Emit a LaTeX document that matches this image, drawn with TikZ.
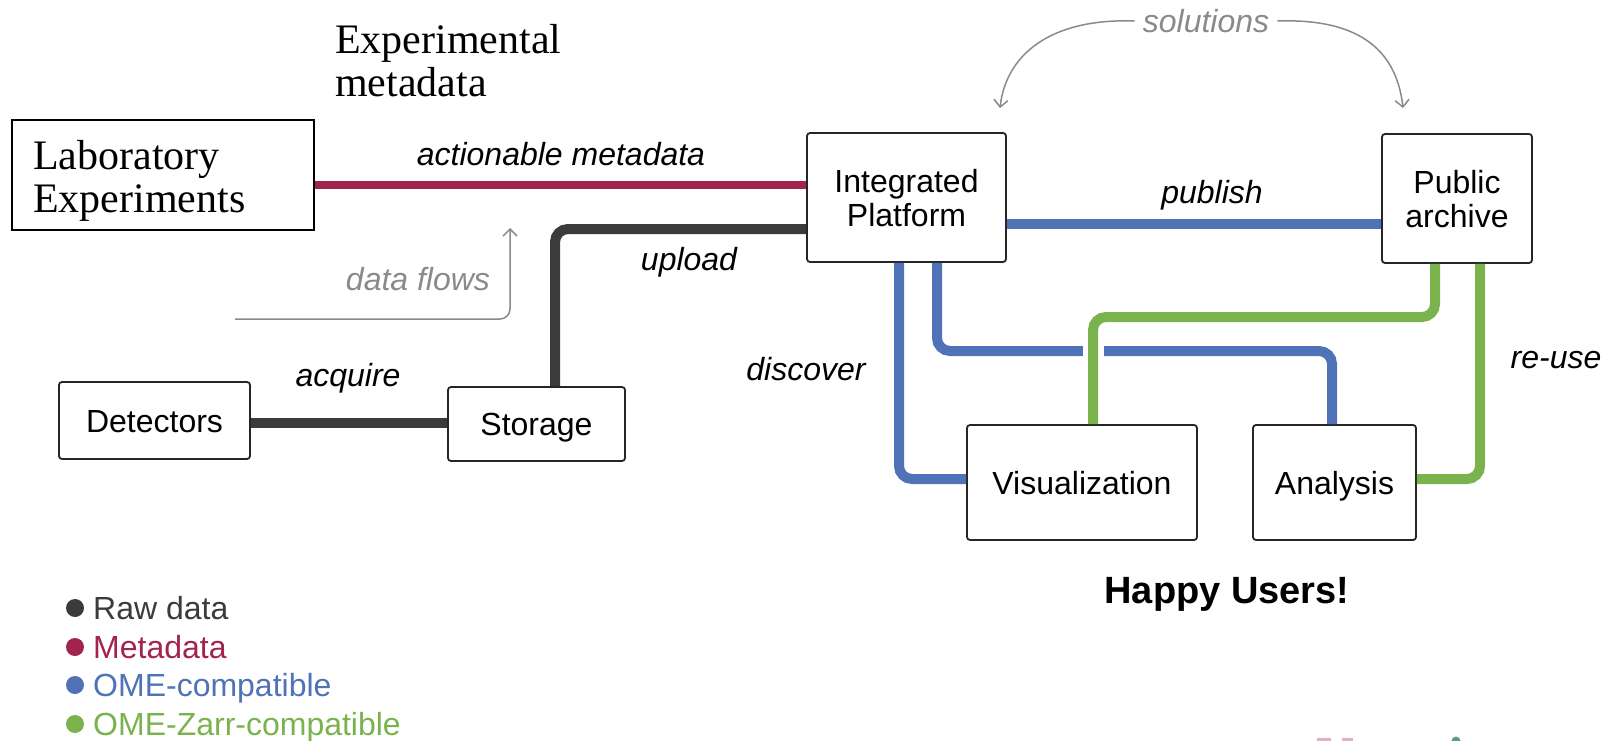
\documentclass[tikz,border=0pt]{standalone}
\usepackage{fontspec}
\setmainfont{Liberation Sans}
\newfontfamily\serifx{Liberation Serif}
\usetikzlibrary{arrows.meta}
\definecolor{rawc}{HTML}{3B3B3B}
\definecolor{metac}{HTML}{A3234F}
\definecolor{omec}{HTML}{5072B6}
\definecolor{zarrc}{HTML}{7AB34E}
\definecolor{notec}{HTML}{8A8A8A}
\definecolor{pinkc}{HTML}{E2AFC6}
\definecolor{tealc}{HTML}{5E9C86}
\tikzset{
  stagebox/.style={draw=black!85, line width=1.8pt, rounded corners=3pt, fill=white,
    font=\fontsize{32}{34}\selectfont, align=center, inner sep=0pt,
    text height=23pt, text depth=0pt},
  twoline/.style={text height=57pt},
  flow/.style={line width=10pt, rounded corners=13pt},
  rawflow/.style={flow, draw=rawc},
  metaflow/.style={flow, line width=8pt, draw=metac},
  omeflow/.style={flow, draw=omec},
  zarrflow/.style={flow, draw=zarrc},
  flowlabel/.style={font=\fontsize{32}{34}\selectfont\itshape, inner sep=0pt},
  notelabel/.style={flowlabel, text=notec},
  notearrow/.style={draw=notec, line width=1.5pt, rounded corners=10pt,
    -{Straight Barb[length=7pt,width=14pt,line width=1.5pt]}},
  legenddot/.style={circle, inner sep=0pt, minimum size=18pt},
  legendtext/.style={font=\fontsize{32}{34}\selectfont, anchor=base west, inner sep=0pt},
  serifnote/.style={inner sep=0pt, align=left, font=\serifx\fontsize{42}{43}\selectfont}
}
\begin{document}
\begin{tikzpicture}[x=1pt,y=-1pt]
\useasboundingbox (0,0) rectangle (1609,741);

% stages
\node[draw=black, line width=1.8pt, minimum width=302pt, minimum height=110pt] (lab) at (163,175) {};
\node[serifnote, anchor=west] (labtext) at ([xshift=22pt,yshift=-6pt]lab.west) {Laboratory\\Experiments};
\node[serifnote, anchor=north west] (expmeta) at (335,24) {Experimental\\metadata};
\node[stagebox, twoline, minimum width=199pt, minimum height=129pt] (ip) at (906.5,197.5) {Integrated\\Platform};
\node[stagebox, twoline, minimum width=150pt, minimum height=129pt] (pa) at (1457,198.5) {Public\\archive};
\node[stagebox, minimum width=191pt, minimum height=77pt] (det) at (154.5,420.5) {Detectors};
\node[stagebox, minimum width=177pt, minimum height=74pt] (stor) at (536.5,424) {Storage};
\node[stagebox, minimum width=230pt, minimum height=115pt] (vis) at (1082,482.5) {Visualization};
\node[stagebox, minimum width=163pt, minimum height=115pt] (ana) at (1334.5,482.5) {Analysis};

% flows between stages
\draw[metaflow] (lab.east |- 0,185) -- (ip.west |- 0,185);
\draw[rawflow] (det.east |- 0,423) -- (stor.west |- 0,423);
\draw[rawflow] (ip.west |- 0,229) -| (stor.north -| 555,0);
\draw[omeflow] (ip.east |- 0,224) -- (pa.west |- 0,224);
\draw[omeflow] (ip.south -| 899,0) |- (vis.west |- 0,479);
\draw[omeflow] (ip.south -| 937,0) |- (1332,351) -- (ana.north -| 1332,0);
\fill[white] (1083,344) rectangle (1104,358);
\draw[zarrflow] (pa.south -| 1435,0) |- (1093,317) -- (vis.north -| 1093,0);
\draw[zarrflow] (pa.south -| 1480,0) |- (ana.east |- 0,479);

% flow labels
\node[flowlabel] (lblmeta) at (561,154) {actionable metadata};
\node[flowlabel] (lblpub) at (1212,195) {publish};
\node[flowlabel] (lblup) at (689,262) {upload};
\node[flowlabel] (lblacq) at (348,378) {acquire};
\node[flowlabel] (lbldisc) at (806,369) {discover};
\node[flowlabel] (lblreuse) at (1556,360) {re-use};

% notes
\node[notelabel] (dataflows) at (418,279) {data flows};
\coordinate (dfstart) at (235,319);
\coordinate (dfend) at (510,228);
\draw[notearrow] (dfstart) -| (dfend);
\node[notelabel] (sol) at (1206,21) {solutions};
\coordinate (solleft) at (1000,108);
\coordinate (solright) at (1403,108);
\draw[notearrow, rounded corners=0pt] ([xshift=-8pt]sol.west) .. controls (1050,18) and (1006,55) .. (solleft);
\draw[notearrow, rounded corners=0pt] ([xshift=8pt]sol.east) .. controls (1365,18) and (1397,55) .. (solright);

\node[font=\fontsize{38}{40}\selectfont\bfseries, inner sep=0pt] (happy) at (1227,594) {Happy Users!};

% legend
\node[legenddot, fill=rawc] (d1) at (75,608) {};
\node[legendtext, text=rawc] (t1) at (93,619) {Raw data};
\node[legenddot, fill=metac] (d2) at (75,647) {};
\node[legendtext, text=metac] (t2) at (93,658) {Metadata};
\node[legenddot, fill=omec] (d3) at (75,685) {};
\node[legendtext, text=omec] (t3) at (93,696) {OME-compatible};
\node[legenddot, fill=zarrc] (d4) at (75,724) {};
\node[legendtext, text=zarrc] (t4) at (93,735) {OME-Zarr-compatible};

% logo edge at the lower border
\fill[pinkc] (1317,738) rectangle (1331,741);
\fill[pinkc] (1342,738) rectangle (1353,741);
\fill[tealc] (1456,741) circle (4.5);
\end{tikzpicture}
\end{document}
